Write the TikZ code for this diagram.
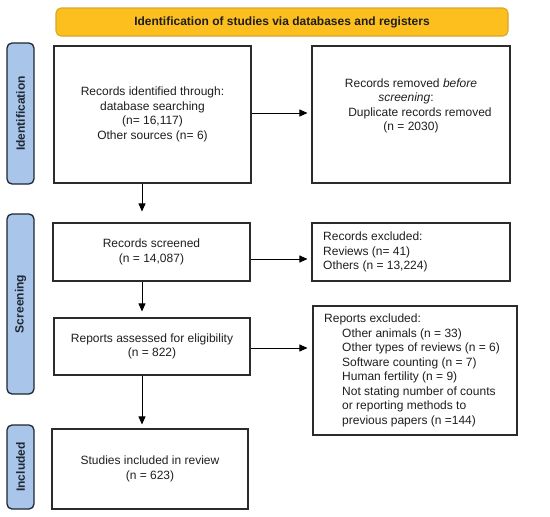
\documentclass[tikz,border=0pt]{standalone}
\usepackage{fontspec}
\setmainfont{Liberation Sans}
\usetikzlibrary{arrows.meta,calc}
\definecolor{gold}{HTML}{FDBF1E}
\definecolor{goldline}{HTML}{D9A62B}
\definecolor{sideblue}{HTML}{A9C6EA}
\definecolor{sideline}{HTML}{1E2733}
\definecolor{boxline}{HTML}{2B2B2B}
\definecolor{txt}{HTML}{1E1E1E}
\begin{document}
\begin{tikzpicture}[x=1pt,y=-1pt,
  every node/.style={text=txt, font=\fontsize{12}{14.5}\selectfont},
  titlebar/.style={draw=goldline, fill=gold, line width=1.1pt, rounded corners=5pt, inner sep=0pt},
  sidebar/.style={draw=sideline, fill=sideblue, line width=1.3pt, rounded corners=5pt, inner sep=0pt, minimum width=27pt},
  sidelabel/.style={rotate=90, font=\bfseries\fontsize{12}{14.5}\selectfont, text=sideline},
  flowbox/.style={draw=boxline, line width=1.1pt, inner sep=0pt, align=center},
  plain/.style={inner sep=0pt},
  flowarrow/.style={draw=black, line width=0.9pt, -{Triangle[length=8pt,width=7pt]}}
]
\useasboundingbox (0,0) rectangle (550,517);

% title bar
\node[titlebar, minimum width=452pt, minimum height=28pt, font=\bfseries\fontsize{12}{14.5}\selectfont] (title) at (282,22) {Identification of studies via databases and registers};

% side bars
\node[sidebar, minimum height=141pt] (sideI) at (20.5,113.5) {};
\node[sidelabel] (labI) at (sideI.center) {Identification};
\node[sidebar, minimum height=180pt] (sideS) at (20.5,304) {};
\node[sidelabel] (labS) at (sideS.center) {Screening};
\node[sidebar, minimum height=84pt] (sideN) at (20.5,467) {};
\node[sidelabel] (labN) at (sideN.center) {Included};

% boxes
\node[flowbox, minimum width=197pt, minimum height=137pt] (b1) at (152.5,114.5)
  {Records identified through:\\database searching\\(n= 16,117)\\Other sources (n= 6)};
\node[flowbox, minimum width=198pt, minimum height=137pt] (b2) at (411,114.5) {};
\node[plain, align=center] (t2) at (411,106)
  {Records removed \textit{before}\\\hspace*{-10pt}\textit{screening}:\\\hspace*{18pt}Duplicate records removed\\(n = 2030)};

\node[flowbox, minimum width=197pt, minimum height=58pt] (b3) at (151.5,252)
  {Records screened\\(n = 14,087)};
\node[flowbox, minimum width=198pt, minimum height=58pt] (b4) at (411,252) {};
\node[plain, align=left, anchor=west] (t4) at (323,252)
  {Records excluded:\\Reviews (n= 41)\\Others (n = 13,224)};

\node[flowbox, minimum width=196pt, minimum height=57pt] (b5) at (152,346.5)
  {Reports assessed for eligibility\\(n = 822)};
\node[flowbox, minimum width=204pt, minimum height=129pt] (b6) at (415,370.5) {};
\node[plain, align=left, anchor=west] (t6) at (324,370.5)
  {Reports excluded:\\
   \hspace*{18pt}Other animals (n = 33)\\
   \hspace*{18pt}Other types of reviews (n = 6)\\
   \hspace*{18pt}Software counting (n = 7)\\
   \hspace*{18pt}Human fertility (n = 9)\\
   \hspace*{18pt}Not stating number of counts\\
   \hspace*{18pt}or reporting methods to\\
   \hspace*{18pt}previous papers (n =144)};

\node[flowbox, minimum width=196pt, minimum height=80pt] (b7) at (150,469)
  {Studies included in review\\(n = 623)};

% arrows
\draw[flowarrow, shorten >=4pt] ([yshift=1.5pt]b1.east) -- ([yshift=1.5pt]b1.east -| b2.west);
\draw[flowarrow, shorten >=11pt] ([xshift=-10.5pt]b1.south) -- ([xshift=-10.5pt]b1.south |- b3.north);
\draw[flowarrow, shorten >=4pt] ([yshift=-7pt]b3.east) -- ([yshift=-7pt]b3.east -| b4.west);
\draw[flowarrow, shorten >=6pt] ([xshift=-9.5pt]b3.south) -- ([xshift=-9.5pt]b3.south |- b5.north);
\draw[flowarrow, shorten >=5pt] ([yshift=-1.5pt]b5.east) -- ([yshift=-1.5pt]b5.east -| b6.west);
\draw[flowarrow, shorten >=4pt] ([xshift=-10pt]b5.south) -- ([xshift=-10pt]b5.south |- b7.north);
\end{tikzpicture}
\end{document}
